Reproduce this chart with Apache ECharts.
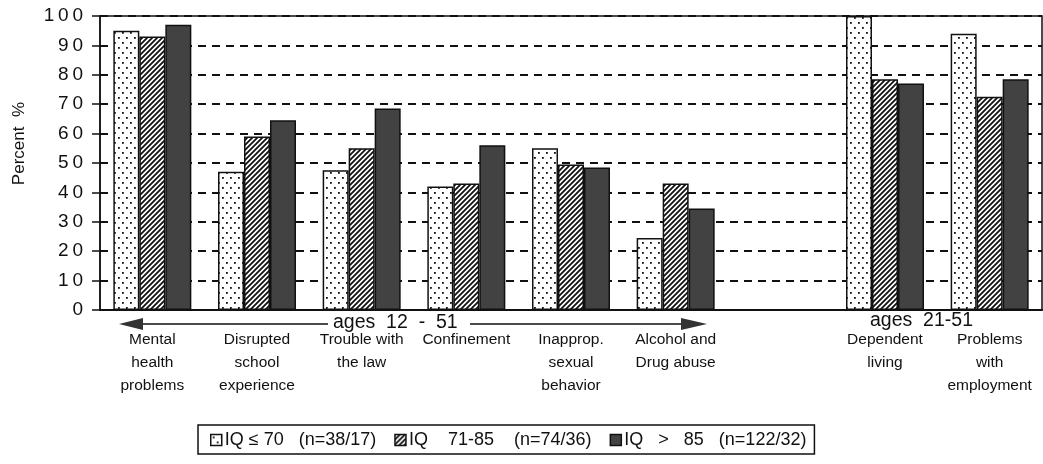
<!DOCTYPE html>
<html lang="en">
<head>
    <meta charset="UTF-8">
    <title>Percent by IQ group</title>
    <style>
        html, body { margin: 0; padding: 0; background: #fff; }
        #main { width: 1043px; height: 464px; }
    </style>
</head>
<body>
    <div id="main"></div>
    <script src="https://cdn.jsdelivr.net/npm/echarts@6/dist/echarts.min.js"></script>
    <script>
        // categories (empty slot separates the two age groups)
        var categories = [
            'Mental\nhealth\nproblems',
            'Disrupted\nschool\nexperience',
            'Trouble with\nthe law',
            'Confinement',
            'Inapprop.\nsexual\nbehavior',
            'Alcohol and\nDrug abuse',
            '',
            'Dependent\nliving',
            'Problems\nwith\nemployment'
        ];
        var seriesNames = ['IQ \u2264 70   (n=38/17)', 'IQ    71-85    (n=74/36)', 'IQ   >   85   (n=122/32)'];
        var iqLow = [95, 47, 47.5, 42, 55, 24.5, null, 100, 94];
        var iqMid = [93, 59, 55, 43, 49.5, 43, null, 78.5, 72.5];
        var iqHigh = [97, 64.5, 68.5, 56, 48.5, 34.5, null, 77, 78.5];
        var yTicks = [0, 100, 10];

        function makeTile(w, h, draw) {
            var c = document.createElement('canvas');
            c.width = w; c.height = h;
            var ctx = c.getContext('2d');
            draw(ctx, w, h);
            return { image: c, repeat: 'repeat' };
        }
        var dots = makeTile(8, 10, function (ctx, w, h) {
            ctx.fillStyle = '#fff'; ctx.fillRect(0, 0, w, h);
            ctx.fillStyle = '#111';
            ctx.fillRect(2, 2, 1.8, 1.8);
            ctx.fillRect(6, 7, 1.8, 1.8);
        });
        var hatch = makeTile(5, 5, function (ctx, w, h) {
            ctx.fillStyle = '#fff'; ctx.fillRect(0, 0, w, h);
            ctx.strokeStyle = '#111'; ctx.lineWidth = 1.8;
            ctx.beginPath();
            ctx.moveTo(-1, h + 1); ctx.lineTo(w + 1, -1);
            ctx.moveTo(-1, 1); ctx.lineTo(1, -1);
            ctx.moveTo(w - 1, h + 1); ctx.lineTo(w + 1, h - 1);
            ctx.stroke();
        });
        var dark = '#424242';

        var font = "'Liberation Sans', Arial, sans-serif";
        var chartDom = document.getElementById('main');
        var myChart = echarts.init(chartDom, null, { renderer: 'canvas' });

        function barSeries(name, data, color) {
            return {
                name: name,
                type: 'bar',
                data: data,
                barWidth: 26,
                barGap: '0%',
                itemStyle: { color: color, borderColor: '#111', borderWidth: 1.5 }
            };
        }

        var option = {
            animation: false,
            textStyle: { fontFamily: font },
            grid: {
                left: 100, right: 1, top: 16, bottom: 154,
                show: true, borderColor: '#111', borderWidth: 1.5
            },
            legend: {
                left: 198, top: 425,
                data: seriesNames,
                itemWidth: 11, itemHeight: 11,
                itemGap: 18,
                padding: [6, 8, 5, 12],
                borderColor: '#111', borderWidth: 1.5,
                itemStyle: { borderColor: '#111', borderWidth: 1.5 },
                textStyle: { fontSize: 18, color: '#111', fontFamily: font, padding: [0, 0, 0, -2] },
                icon: 'rect'
            },
            xAxis: {
                type: 'category',
                data: categories,
                axisLine: { lineStyle: { color: '#111', width: 2 } },
                axisTick: { show: false },
                axisLabel: {
                    interval: 0, margin: 18, fontSize: 15.5, lineHeight: 23,
                    color: '#111', fontFamily: font
                }
            },
            yAxis: {
                type: 'value',
                min: yTicks[0], max: yTicks[1], interval: yTicks[2],
                axisLine: { show: true, lineStyle: { color: '#111', width: 1.5 } },
                axisTick: { show: true, length: 8, lineStyle: { color: '#111', width: 1.5 } },
                axisLabel: {
                    margin: 17, fontSize: 19, color: '#111', fontFamily: font,
                    formatter: function (v) { return String(v).split('').join('\u2009'); }
                },
                splitLine: { lineStyle: { color: '#111', width: 2, type: [8, 6] } }
            },
            graphic: [
                {
                    type: 'text', left: 11, top: 102, rotation: Math.PI / 2,
                    style: { text: 'Percent  %', font: '17px ' + font, fill: '#111' }
                },
                // age range arrows and labels
                { type: 'line', shape: { x1: 140, y1: 324, x2: 328, y2: 324 }, style: { stroke: '#111', lineWidth: 1.5 } },
                { type: 'polygon', shape: { points: [[119, 324], [143, 318], [143, 330]] }, style: { fill: '#333' } },
                { type: 'text', x: 333, y: 313, style: { text: 'ages  12  -  51', font: '19.5px ' + font, fill: '#111' } },
                { type: 'line', shape: { x1: 470, y1: 324, x2: 684, y2: 324 }, style: { stroke: '#111', lineWidth: 1.5 } },
                { type: 'polygon', shape: { points: [[707, 324], [681, 318], [681, 330]] }, style: { fill: '#333' } },
                { type: 'text', x: 870, y: 311, style: { text: 'ages  21-51', font: '19.5px ' + font, fill: '#111' } }
            ],
            series: [
                barSeries(seriesNames[0], iqLow, dots),
                barSeries(seriesNames[1], iqMid, hatch),
                barSeries(seriesNames[2], iqHigh, dark)
            ]
        };
        option && myChart.setOption(option);
    </script>
</body>
</html>
